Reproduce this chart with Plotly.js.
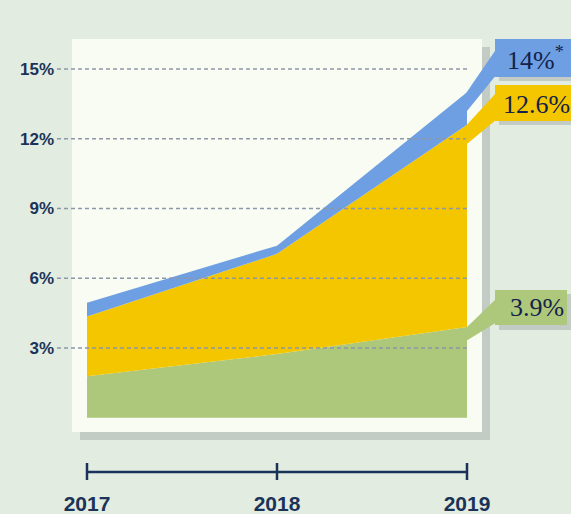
<!DOCTYPE html>
<html><head><meta charset="utf-8">
<script src="https://cdn.plot.ly/plotly-3.0.1.min.js"></script>
<style>html,body{margin:0;padding:0;background:#e2ece0;}#chart{width:571px;height:514px;}</style>
</head><body><div id="chart"></div>
<script>
// ---- data ----
const years = [2017, 2018, 2019];
const yearLabels = ["2017", "2018", "2019"];
const greenTop = [1.78, 2.74, 3.9];
const yellowTop = [4.35, 7.05, 12.6];
const blueTop = [4.95, 7.4, 14.0];
const yTicks = [3, 6, 9, 12, 15];
const yTickLabels = ["3%", "6%", "9%", "12%", "15%"];
const endLabels = ["14%<sup>*</sup>", "12.6%", "3.9%"];

// ---- geometry helpers (pixel -> data) for decorations ----
const W = 571, H = 514, ML = 55, MB = 42;
const pxPerYear = 190, x0px = 87;      // 2017 at x=87
const pxPerPct = 23.25, y0px = 417.75; // 0% at y=417.75
const px2x = p => years[0] + (p - x0px) / pxPerYear;
const px2y = p => (y0px - p) / pxPerPct;
const xRange = [px2x(ML), px2x(W)];
const yRange = [px2y(H - MB), px2y(0)];

const C = {
  bg: "#e2ece0", panel: "#f9fcf3", shadow: "#c2ccc4",
  green: "#aec87b", yellow: "#f3c600", blue: "#6e9fe3",
  navy: "#1b3358", grid: "#8d97a8", text: "#14224a"
};

const traces = [
  {x: years, y: greenTop, type: "scatter", mode: "lines", fill: "tozeroy",
   fillcolor: C.green, line: {width: 0, color: C.green}, hoverinfo: "skip"},
  {x: years, y: yellowTop, type: "scatter", mode: "lines", fill: "tonexty",
   fillcolor: C.yellow, line: {width: 0, color: C.yellow}, hoverinfo: "skip"},
  {x: years, y: blueTop, type: "scatter", mode: "lines", fill: "tonexty",
   fillcolor: C.blue, line: {width: 0, color: C.blue}, hoverinfo: "skip"}
];

const rect = (x0, y0, x1, y1, color, layer) => ({
  type: "rect", xref: "x", yref: "y", layer: layer || "above",
  x0: px2x(x0), x1: px2x(x1), y0: px2y(y0), y1: px2y(y1),
  fillcolor: color, line: {width: 0}
});
const tri = (pts, color) => ({
  type: "path", xref: "x", yref: "y", layer: "above",
  path: "M" + pts.map(p => px2x(p[0]) + "," + px2y(p[1])).join(" L") + " Z",
  fillcolor: color, line: {width: 0}
});

const last = years.length - 1;
const xEnd = x0px + (years[last] - years[0]) * pxPerYear;
const tipY = v => y0px - v * pxPerPct;

const shapes = [
  rect(80, 47, 490, 440, C.shadow, "below"),
  rect(72, 39, 482, 432, C.panel, "below"),
];
yTicks.forEach(t => shapes.push({
  type: "line", xref: "x", yref: "y", layer: "above",
  x0: px2x(57), x1: years[last], y0: t, y1: t,
  line: {color: C.grid, width: 1.5, dash: "4px,3px"}
}));
shapes.push(
  rect(499, 43, 575, 81, C.shadow),
  rect(495, 39, 575, 77, C.blue),
  tri([[xEnd - 1, tipY(blueTop[last]) + 1], [497, 48], [497, 74], [xEnd - 1, tipY(blueTop[last]) + 20]], C.blue),
  rect(499, 89, 575, 125, C.shadow),
  rect(495, 85, 575, 121, C.yellow),
  tri([[xEnd - 1, tipY(yellowTop[last]) + 1], [497, 92], [497, 119], [xEnd - 1, tipY(yellowTop[last]) + 20]], C.yellow),
  rect(499, 294, 571, 330, C.shadow),
  rect(495, 290, 567, 325, C.green),
  tri([[xEnd - 1, tipY(greenTop[last]) + 1], [497, 298], [497, 322], [xEnd - 1, tipY(greenTop[last]) + 14]], C.green)
);
shapes.push({type: "line", xref: "x", yref: "paper", x0: years[0], x1: years[last], y0: 0, y1: 0,
  line: {color: C.navy, width: 2.5}, layer: "above"});
years.forEach(y => shapes.push({type: "line", xref: "x", yref: "paper", ysizemode: "pixel", yanchor: 0,
  x0: y, x1: y, y0: -8, y1: 9, line: {color: C.navy, width: 2.5}, layer: "above"}));

const labelFont = {family: "Liberation Serif, DejaVu Serif, serif", size: 26, color: C.text};
const annotations = [
  {text: endLabels[0], x: px2x(505), y: px2y(58), xref: "x", yref: "y", xanchor: "left", yanchor: "middle", showarrow: false, font: labelFont},
  {text: endLabels[1], x: px2x(501), y: px2y(104), xref: "x", yref: "y", xanchor: "left", yanchor: "middle", showarrow: false, font: labelFont},
  {text: endLabels[2], x: px2x(508), y: px2y(307), xref: "x", yref: "y", xanchor: "left", yanchor: "middle", showarrow: false, font: labelFont}
];

const layout = {
  width: W, height: H,
  margin: {l: ML, r: 0, t: 0, b: MB, pad: 0},
  paper_bgcolor: C.bg, plot_bgcolor: "rgba(0,0,0,0)",
  showlegend: false,
  xaxis: {type: "linear", range: xRange, tickvals: years, ticktext: yearLabels,
    showgrid: false, zeroline: false, showline: false, ticks: "",
    ticklabelstandoff: 17,
    tickfont: {family: "Liberation Sans Narrow, Liberation Sans, sans-serif", size: 21, color: C.navy, weight: "bold"},
    fixedrange: true},
  yaxis: {type: "linear", range: yRange, tickvals: yTicks, ticktext: yTickLabels,
    showgrid: false, zeroline: false, showline: false, ticks: "",
    tickfont: {family: "Liberation Sans Narrow, Liberation Sans, sans-serif", size: 17, color: C.navy, weight: "bold"},
    fixedrange: true},
  shapes: shapes,
  annotations: annotations
};

Plotly.newPlot("chart", traces, layout, {displayModeBar: false, staticPlot: true});
</script></body></html>
